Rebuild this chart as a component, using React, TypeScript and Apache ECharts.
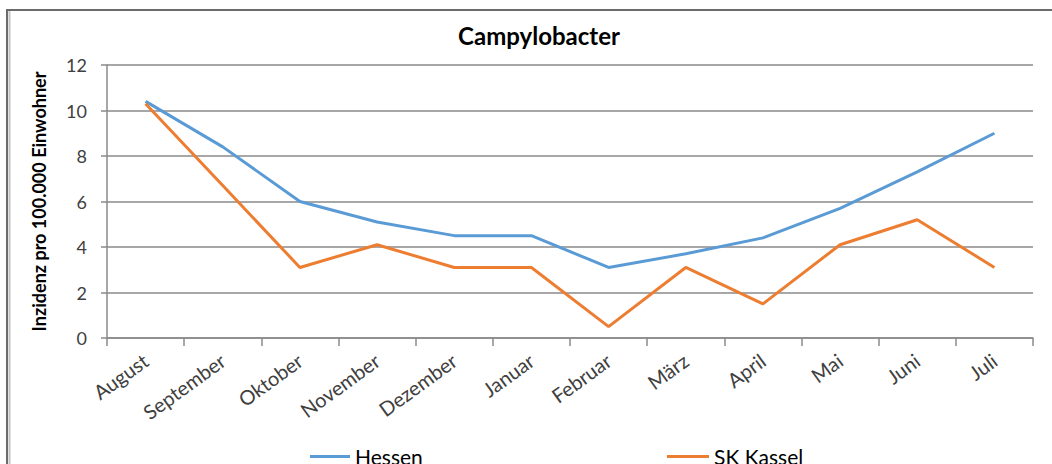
import React, { useEffect, useRef } from "react";
import * as echarts from "echarts";

const months = ["August", "September", "Oktober", "November", "Dezember", "Januar", "Februar", "März", "April", "Mai", "Juni", "Juli"];
const hessen = [10.4, 8.4, 6.0, 5.1, 4.5, 4.5, 3.1, 3.7, 4.4, 5.7, 7.3, 9.0];
const skKassel = [10.3, 6.7, 3.1, 4.1, 3.1, 3.1, 0.5, 3.1, 1.5, 4.1, 5.2, 3.1];
const chartTitle = "Campylobacter";
const yAxisTitle = "Inzidenz pro 100.000 Einwohner";
const seriesNames = ["Hessen", "SK Kassel"];

const FONT = "Lato, 'Noto Sans', sans-serif";

export default function App() {
  const ref = useRef<HTMLDivElement>(null);
  useEffect(() => {
    if (!ref.current) return;
    const chart = echarts.init(ref.current, null, { renderer: "svg" });
    chart.setOption({
      animation: false,
      backgroundColor: "#ffffff",
      textStyle: { fontFamily: FONT },
      title: {
        text: chartTitle,
        left: 534,
        top: 18,
        textAlign: "center",
        textStyle: { fontFamily: FONT, fontSize: 24, fontWeight: "bold", color: "#000" },
      },
      graphic: [
        { type: "rect", shape: { x: 7, y: 10, width: 1100, height: 600 }, style: { fill: "none", stroke: "#6b6b6b", lineWidth: 2 }, silent: true },
        { type: "line", shape: { x1: 9.5, y1: 11, x2: 9.5, y2: 470 }, style: { stroke: "#c4c4c4", lineWidth: 2 }, silent: true },
      ],
      legend: [
        {
          data: [seriesNames[0]],
          left: 305,
          top: 441,
          icon: "rect",
          itemWidth: 40,
          itemHeight: 3,
          itemGap: 5,
          textStyle: { fontFamily: FONT, fontSize: 21, color: "#000" },
        },
        {
          data: [seriesNames[1]],
          left: 662,
          top: 441,
          icon: "rect",
          itemWidth: 42,
          itemHeight: 3,
          itemGap: 5,
          textStyle: { fontFamily: FONT, fontSize: 21, color: "#000" },
        },
      ],
      grid: { left: 107, right: 19, top: 65, bottom: 126, containLabel: false },
      xAxis: {
        type: "category",
        data: months,
        boundaryGap: true,
        axisLine: { lineStyle: { color: "#8a8a8a", width: 1.5 } },
        axisTick: { show: true, length: 8, alignWithLabel: false, lineStyle: { color: "#8a8a8a", width: 1.5 } },
        axisLabel: { rotate: 36, fontSize: 20, color: "#404040", fontFamily: FONT, margin: 20, interval: 0 },
      },
      yAxis: {
        type: "value",
        min: 0,
        max: 12,
        interval: 2,
        name: yAxisTitle,
        nameLocation: "middle",
        nameGap: 59,
        nameRotate: 90,
        nameTextStyle: { fontFamily: FONT, fontSize: 18, fontWeight: "bold", color: "#000" },
        axisLine: { show: true, lineStyle: { color: "#8a8a8a", width: 1.5 } },
        axisTick: { show: true, length: 6, lineStyle: { color: "#8a8a8a", width: 1.5 } },
        axisLabel: { fontSize: 18, color: "#404040", fontFamily: FONT, margin: 20 },
        splitLine: { show: true, lineStyle: { color: "#8a8a8a", width: 1.5 } },
      },
      series: [
        {
          name: seriesNames[0],
          type: "line",
          data: hessen,
          symbol: "none",
          lineStyle: { color: "#5b9bd5", width: 3 },
          itemStyle: { color: "#5b9bd5" },
        },
        {
          name: seriesNames[1],
          type: "line",
          data: skKassel,
          symbol: "none",
          lineStyle: { color: "#ed7d31", width: 3 },
          itemStyle: { color: "#ed7d31" },
        },
      ],
    });
    return () => chart.dispose();
  }, []);
  return (
    <div style={{ position: "absolute", left: 0, top: 0, width: 1052, height: 464 }}>
      <div ref={ref} style={{ width: 1052, height: 464 }} />
    </div>
  );
}
